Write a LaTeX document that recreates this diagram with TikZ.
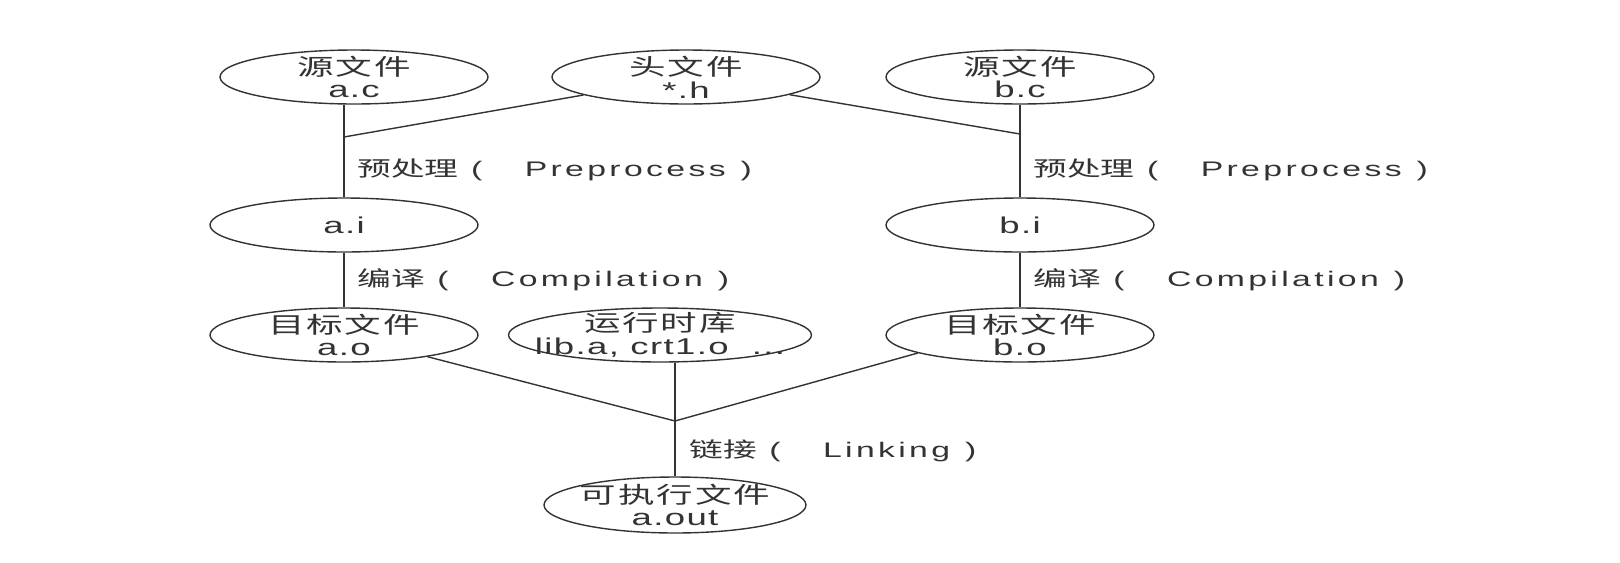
\documentclass[tikz,border=0pt]{standalone}
\usepackage{fontspec}
\setmainfont{Liberation Sans}[FakeStretch=1.6,LetterSpace=6]
\newfontfamily\stagefont{Liberation Sans}[FakeStretch=1.6,LetterSpace=16]
\newfontfamily\cjk{Noto Sans CJK SC}[FakeStretch=1.6]
\newfontfamily\cjkwide{Noto Sans CJK SC}[FakeStretch=1.6,LetterSpace=8]
\usetikzlibrary{shapes.geometric}
\newcommand{\stagetext}[2]{{\cjk #1}\hspace{0.25cm}(\hspace{0.85cm}#2\hspace{0.3cm})}

\begin{document}
\begin{tikzpicture}[x=0.02cm, y=-0.02cm, color=black!80,
    file/.style={ellipse, draw, line width=0.8pt, inner sep=-1cm,
        minimum width=5.36cm, minimum height=1.08cm, align=center,
        font=\fontsize{13}{13}\selectfont},
    stage/.style={anchor=west, inner sep=0pt, font=\fontsize{12}{12}\stagefont},
    link/.style={line width=0.8pt}]
    \useasboundingbox (0, 0) rectangle (1620, 562);

    \node[file] (ac) at (354, 77) {{\cjkwide 源文件}\\a.c};
    \node[file] (hh) at (686, 77) {{\cjkwide 头文件}\\*.h};
    \node[file] (bc) at (1020, 77) {{\cjkwide 源文件}\\b.c};
    \node[file] (ai) at (344, 225) {a.i};
    \node[file] (bi) at (1020, 225) {b.i};
    \node[file] (ao) at (344, 335) {{\cjkwide 目标文件}\\a.o};
    \node[file, minimum width=6.06cm] (lib) at (660, 335) {{\cjkwide 运行时库}\\lib.a, crt1.o \ ...};
    \node[file] (bo) at (1020, 335) {{\cjkwide 目标文件}\\b.o};
    \node[file, minimum width=5.24cm, minimum height=1.12cm] (aout) at (675, 505) {{\cjkwide 可执行文件}\\a.out};

    \coordinate (jA) at (344, 137);
    \coordinate (jB) at (1020, 134);
    \coordinate (jC) at (675, 421);

    \node[stage] (preA) at (357, 170) {\stagetext{预处理}{Preprocess}};
    \node[stage] (preB) at (1033, 170) {\stagetext{预处理}{Preprocess}};
    \node[stage] (comA) at (357, 280) {\stagetext{编译}{Compilation}};
    \node[stage] (comB) at (1033, 280) {\stagetext{编译}{Compilation}};
    \node[stage] (lnk) at (689, 451) {\stagetext{链接}{Linking}};

    \draw[link] (ai |- ac.south) -- (ai) -- (ao);
    \draw[link] (bc) -- (bi) -- (bo);
    \draw[link] (jA) -- (hh);
    \draw[link] (jB) -- (hh);
    \draw[link] (ao) -- (jC) -- (bo.190);
    \draw[link] (lib.south -| jC) -- (jC) -- (aout);
\end{tikzpicture}
\end{document}
